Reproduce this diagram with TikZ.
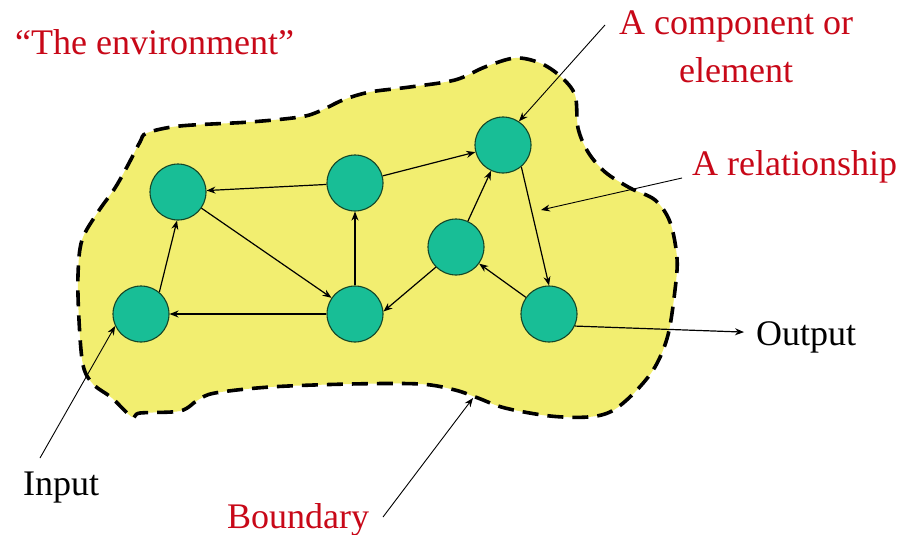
\documentclass[tikz,border=0pt]{standalone}
\usepackage{fontspec}
\setmainfont{Liberation Serif}
\usetikzlibrary{arrows.meta}
\definecolor{envred}{RGB}{200,8,24}
\definecolor{sysyellow}{RGB}{242,238,112}
\definecolor{elemgreen}{RGB}{24,190,150}
\definecolor{elemline}{RGB}{20,70,40}
\begin{document}
\begin{tikzpicture}[x=1pt,y=-1pt,
  elem/.style={circle,minimum size=56pt,inner sep=0pt,fill=elemgreen,draw=elemline,line width=1.1pt},
  rel/.style={line width=1.2pt,-{Stealth[length=9pt,width=7pt]}},
  note/.style={line width=0.9pt,-{Stealth[length=9pt,width=7pt]}},
  lbl/.style={inner sep=0pt,font=\fontsize{36}{40}\selectfont},
  redlbl/.style={lbl,text=envred},
  boundary/.style={line width=3.6pt,dash pattern=on 16pt off 9pt,fill=sysyellow}]
\useasboundingbox (0,0) rectangle (902,535);
\fill[white] (0,0) rectangle (902,535);

% system boundary
\draw[boundary] plot[smooth cycle,tension=0.55] coordinates {
  (147,133) (180,126) (250,122) (300,117) (320,111) (343,100) (370,92)
  (410,87) (455,80) (485,67) (515,58) (540,63) (560,76) (575,95)
  (578,128) (588,152) (605,172) (630,188) (655,200) (670,222) (677,258)
  (675,290) (668,335) (655,367) (635,392) (612,411) (588,417) (550,416)
  (505,408) (478,398) (455,390) (420,384) (350,384) (270,387) (215,393)
  (198,400) (180,411) (140,413) (132,417) (112,398) (93,384) (83,365)
  (79,320) (78,275) (82,240) (98,212) (115,188) (128,165) (140,142)};

% elements
\node[elem] (A) at (178,192) {};
\node[elem] (B) at (355,183) {};
\node[elem] (C) at (503,145) {};
\node[elem] (D) at (456,247) {};
\node[elem] (E) at (141,314) {};
\node[elem] (F) at (355,314) {};
\node[elem] (G) at (549,314) {};

% relationships
\draw[rel] (B) -- (A);
\draw[rel] (B) -- (C);
\draw[rel] (A) -- (F);
\draw[rel] (F) -- (B);
\draw[rel] (F) -- (E);
\draw[rel] (E.50) -- (A.-92);
\draw[rel] (D.225) -- (F.5);
\draw[rel] (D) -- (C);
\draw[rel] (C.-50) -- (G.north);
\draw[rel] (G) -- (D);

% labels
\node[redlbl,anchor=base west] (env) at (15,55) {“The environment”};
\node[redlbl,anchor=base] (comp1) at (736,35) {A component or};
\node[redlbl,anchor=base] (comp2) at (736,82) {element};
\node[redlbl,anchor=base west] (relat) at (692,175) {A relationship};
\node[redlbl,anchor=base west] (bound) at (227,528) {Boundary};
\node[lbl,anchor=base west] (inp) at (23,495) {Input};
\node[lbl,anchor=base west] (outp) at (756,345) {Output};

% input and output
\draw[rel,shorten >=12pt] (G.-25) -- (outp.175);
\coordinate (inS) at (40,458);
\draw[note] (inS) -- (E.205);

% pointers from the labels
\coordinate (cmpS) at (605,25);
\draw[note] (cmpS) -- (C.56);
\coordinate (relS) at (682,178);
\coordinate (relT) at (541,210);
\draw[note] (relS) -- (relT);
\coordinate (bdS) at (383,517);
\coordinate (bdT) at (473,398);
\draw[note] (bdS) -- (bdT);
\end{tikzpicture}
\end{document}
